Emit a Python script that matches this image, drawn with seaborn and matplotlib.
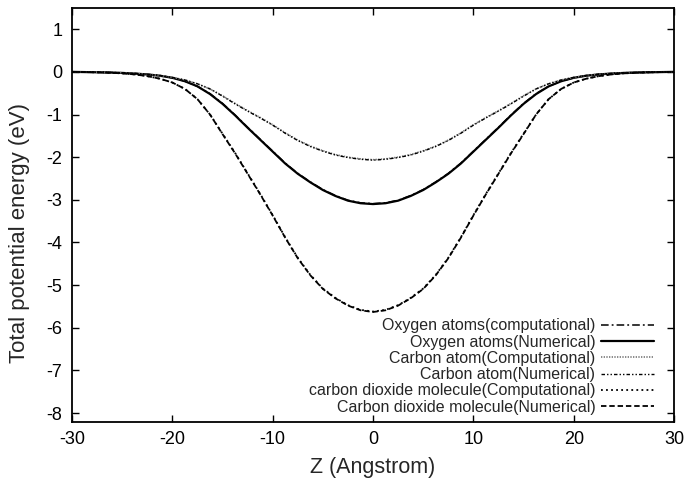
import numpy as np
import pandas as pd
import matplotlib
matplotlib.use('Agg')
import matplotlib.pyplot as plt
import seaborn as sns

# Z positions (Angstrom)
z = [-30, -28.75, -27.5, -26.25, -25, -23.75, -22.5, -21.25, -20, -18.75, -17.5, -16.25,
     -15, -13.75, -12.5, -11.25, -10, -8.75, -7.5, -6.25, -5, -3.75, -2.5, -1.25, 0,
     1.25, 2.5, 3.75, 5, 6.25, 7.5, 8.75, 10, 11.25, 12.5, 13.75, 15, 16.25,
     17.5, 18.75, 20, 21.25, 22.5, 23.75, 25, 26.25, 27.5, 28.75, 30]

# energies (eV)
oxygen_comp = [0, -0.005, -0.01, -0.015, -0.025, -0.04, -0.06, -0.09, -0.14, -0.22, -0.34, -0.51,
               -0.74, -1.01, -1.30, -1.58, -1.86, -2.14, -2.38, -2.58, -2.76, -2.90, -3.01, -3.07, -3.09,
               -3.07, -3.01, -2.90, -2.76, -2.58, -2.38, -2.14, -1.86, -1.58, -1.30, -1.01, -0.74, -0.51,
               -0.34, -0.22, -0.14, -0.09, -0.06, -0.04, -0.025, -0.015, -0.01, -0.005, 0]
oxygen_num = [0, -0.005, -0.01, -0.015, -0.025, -0.04, -0.06, -0.09, -0.14, -0.22, -0.34, -0.52,
              -0.75, -1.02, -1.31, -1.59, -1.87, -2.15, -2.39, -2.59, -2.77, -2.91, -3.02, -3.08, -3.10,
              -3.08, -3.02, -2.91, -2.77, -2.59, -2.39, -2.15, -1.87, -1.59, -1.31, -1.02, -0.75, -0.52,
              -0.34, -0.22, -0.14, -0.09, -0.06, -0.04, -0.025, -0.015, -0.01, -0.005, 0]
carbon_comp = [0, -0.003, -0.007, -0.012, -0.02, -0.035, -0.055, -0.085, -0.13, -0.19, -0.28, -0.40,
               -0.56, -0.74, -0.91, -1.07, -1.24, -1.43, -1.60, -1.74, -1.85, -1.94, -2.00, -2.04, -2.06,
               -2.04, -2.00, -1.94, -1.85, -1.74, -1.60, -1.43, -1.24, -1.07, -0.91, -0.74, -0.56, -0.40,
               -0.28, -0.19, -0.13, -0.085, -0.055, -0.035, -0.02, -0.012, -0.007, -0.003, 0]
carbon_num = [0, -0.003, -0.007, -0.012, -0.02, -0.035, -0.055, -0.085, -0.13, -0.19, -0.28, -0.40,
              -0.57, -0.75, -0.92, -1.08, -1.25, -1.44, -1.61, -1.75, -1.86, -1.95, -2.01, -2.05, -2.07,
              -2.05, -2.01, -1.95, -1.86, -1.75, -1.61, -1.44, -1.25, -1.08, -0.92, -0.75, -0.57, -0.40,
              -0.28, -0.19, -0.13, -0.085, -0.055, -0.035, -0.02, -0.012, -0.007, -0.003, 0]
co2_comp = [0, -0.005, -0.01, -0.02, -0.035, -0.06, -0.10, -0.16, -0.25, -0.40, -0.64, -1.00,
            -1.45, -1.90, -2.38, -2.86, -3.36, -3.88, -4.36, -4.76, -5.08, -5.30, -5.47, -5.58, -5.62,
            -5.58, -5.47, -5.30, -5.08, -4.76, -4.36, -3.88, -3.36, -2.86, -2.38, -1.90, -1.45, -1.00,
            -0.64, -0.40, -0.25, -0.16, -0.10, -0.06, -0.035, -0.02, -0.01, -0.005, 0]
co2_num = [0, -0.005, -0.01, -0.02, -0.035, -0.06, -0.10, -0.16, -0.25, -0.40, -0.64, -1.00,
           -1.46, -1.91, -2.39, -2.87, -3.37, -3.89, -4.37, -4.77, -5.09, -5.31, -5.48, -5.59, -5.63,
           -5.59, -5.48, -5.31, -5.09, -4.77, -4.37, -3.89, -3.37, -2.87, -2.39, -1.91, -1.46, -1.00,
           -0.64, -0.40, -0.25, -0.16, -0.10, -0.06, -0.035, -0.02, -0.01, -0.005, 0]

series = [
    ('Oxygen atoms(computational)', oxygen_comp, (0, (5, 2, 1.2, 2)), 'black', 1.1),
    ('Oxygen atoms(Numerical)', oxygen_num, '-', 'black', 1.6),
    ('Carbon atom(Computational)', carbon_comp, (0, (0.8, 0.8)), '#777777', 1.2),
    ('Carbon atom(Numerical)', carbon_num, (0, (2.5, 1.5, 1, 1.5, 1, 1.5)), 'black', 1.0),
    ('carbon dioxide molecule(Computational)', co2_comp, (0, (1, 1.8)), 'black', 1.3),
    ('Carbon dioxide molecule(Numerical)', co2_num, (0, (3, 1.6)), 'black', 1.3),
]

sns.set_style('ticks')
plt.rcParams['font.family'] = ['Liberation Sans', 'DejaVu Sans']
plt.rcParams['axes.unicode_minus'] = False

fig = plt.figure(figsize=(6.86, 4.78), dpi=100)
ax = fig.add_axes([0.105, 0.118, 0.8776, 0.8655])

for label, vals, ls, col, lw in series:
    df = pd.DataFrame({'z': z, 'E': vals})
    sns.lineplot(data=df, x='z', y='E', ax=ax, label=label, color=col,
                 linestyle=ls, linewidth=lw)

ax.set_xlim(-30, 30)
ax.set_ylim(-8.2, 1.5)
ax.set_xticks(np.arange(-30, 31, 10))
ax.set_yticks(np.arange(-8, 2, 1))
ax.tick_params(direction='in', top=True, right=True, length=5, width=1,
               labelsize=13, colors='black', pad=7)
for s in ax.spines.values():
    s.set_linewidth(1.3)
    s.set_color('black')

ax.set_xlabel('Z (Angstrom)', fontsize=15.5, labelpad=6)
ax.set_ylabel('Total potential energy (eV)', fontsize=16)
ax.yaxis.set_label_coords(-0.07, 0.456)

leg = ax.legend(loc='lower right', bbox_to_anchor=(0.974, 0.005), frameon=False,
                markerfirst=False, fontsize=11.5, handlelength=3.3, labelspacing=0.08,
                borderaxespad=0, handletextpad=0.35, borderpad=0.3)
for t in leg.get_texts():
    t.set_ha('right')
leg._legend_box.align = 'right'

fig.savefig('out.png', dpi=100)
